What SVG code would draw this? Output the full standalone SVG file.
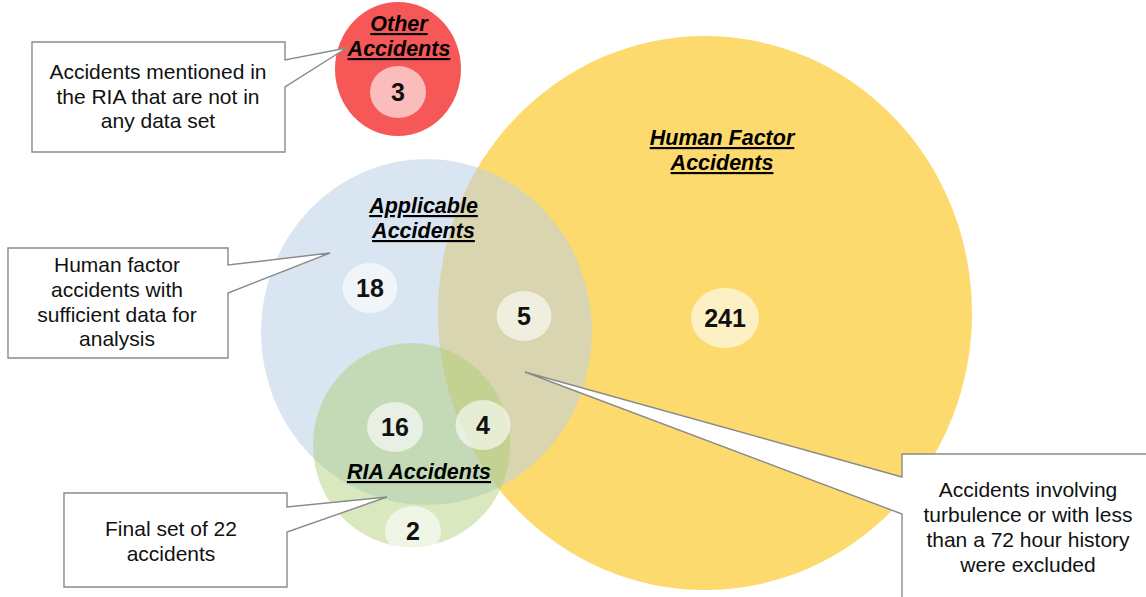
<svg xmlns="http://www.w3.org/2000/svg" width="1146" height="597" viewBox="0 0 1146 597">
<defs>
<style>
.lbl{font-family:"Liberation Sans",Arial,sans-serif;font-size:21.5px;font-weight:bold;font-style:italic;text-anchor:middle;fill:#000;text-decoration:underline;}
.num{font-family:"Liberation Sans",Arial,sans-serif;font-size:25px;font-weight:bold;text-anchor:middle;fill:#111;}
.txt{font-family:"Liberation Sans",Arial,sans-serif;font-size:21px;text-anchor:middle;fill:#111;}
.inner{fill:#fff;fill-opacity:0.6;}
.call{fill:#fff;stroke:#8a8a8a;stroke-width:1.4;stroke-linejoin:miter;}
</style>
<clipPath id="greenClip"><ellipse cx="411.5" cy="445" rx="98.5" ry="102"/></clipPath>
</defs>
<rect width="1146" height="597" fill="#fff"/>

<g id="human-factor">
<ellipse cx="705" cy="313" rx="267" ry="277" fill="#FDDA6E"/>
</g>
<g id="applicable">
<ellipse cx="426.5" cy="332" rx="165.5" ry="173" fill="rgb(185,210,232)" fill-opacity="0.55"/>
</g>
<g id="ria">
<ellipse cx="411.5" cy="445" rx="98.5" ry="102" fill="rgb(170,205,110)" fill-opacity="0.45"/>
</g>
<g id="other">
<ellipse cx="398" cy="69" rx="63" ry="67" fill="#F65858"/>
</g>

<g id="counts">
<g id="n3"><ellipse class="inner" cx="398" cy="92" rx="28" ry="26"/><text class="num" x="398" y="101">3</text></g>
<g id="n18"><ellipse class="inner" cx="370" cy="288" rx="27.5" ry="25"/><text class="num" x="370" y="297">18</text></g>
<g id="n5"><ellipse class="inner" cx="524" cy="316" rx="27.5" ry="25"/><text class="num" x="524" y="325">5</text></g>
<g id="n16"><ellipse class="inner" cx="395" cy="427" rx="28" ry="25"/><text class="num" x="395" y="436">16</text></g>
<g id="n4"><ellipse class="inner" cx="483" cy="425" rx="27.5" ry="25"/><text class="num" x="483" y="434">4</text></g>
<g id="n2"><ellipse class="inner" cx="413" cy="531" rx="28" ry="25" clip-path="url(#greenClip)"/><text class="num" x="413" y="540">2</text></g>
<g id="n241"><ellipse class="inner" cx="725" cy="318" rx="34" ry="30"/><text class="num" x="725" y="327">241</text></g>
</g>

<g id="labels">
<text class="lbl" x="399" y="31">Other</text>
<text class="lbl" x="399" y="56">Accidents</text>
<text class="lbl" x="722" y="145">Human Factor</text>
<text class="lbl" x="722" y="170">Accidents</text>
<text class="lbl" x="423.5" y="213">Applicable</text>
<text class="lbl" x="423.5" y="238">Accidents</text>
<text class="lbl" x="419" y="479">RIA Accidents</text>
</g>

<g id="connectors">
<g id="callout-other">
<path class="call" d="M32,42 H285 V60 L346.5,48 L285,87 V152 H32 Z"/>
<text class="txt" x="158" y="79">Accidents mentioned in</text>
<text class="txt" x="158" y="104">the RIA that are not in</text>
<text class="txt" x="158" y="128">any data set</text>
</g>
<g id="callout-applicable">
<path class="call" d="M8,248 H228 V265 L330,253 L228,293 V358 H8 Z"/>
<text class="txt" x="117" y="272">Human factor</text>
<text class="txt" x="117" y="297">accidents with</text>
<text class="txt" x="117" y="322">sufficient data for</text>
<text class="txt" x="117" y="346">analysis</text>
</g>
<g id="callout-ria">
<path class="call" d="M64,493 H287 V507 L387,497 L287,532 V587 H64 Z"/>
<text class="txt" x="171" y="536">Final set of 22</text>
<text class="txt" x="171" y="561">accidents</text>
</g>
<g id="callout-excluded">
<path class="call" d="M902,454 H1160 V610 H902 V514 L525,372 L902,477 Z"/>
<text class="txt" x="1028" y="497">Accidents involving</text>
<text class="txt" x="1028" y="522">turbulence or with less</text>
<text class="txt" x="1028" y="547">than a 72 hour history</text>
<text class="txt" x="1028" y="572">were excluded</text>
</g>
</g>
</svg>
